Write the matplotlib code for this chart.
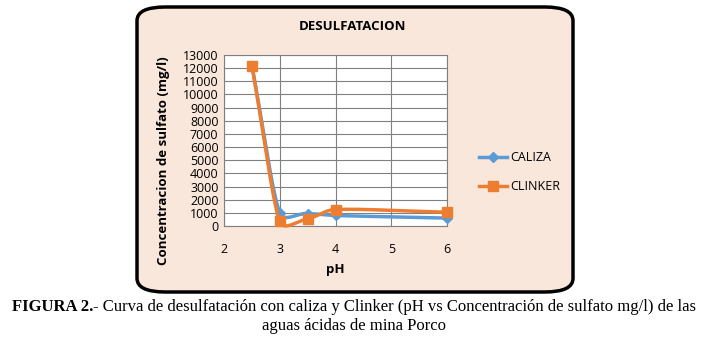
import numpy as np
import matplotlib
matplotlib.use('Agg')
import matplotlib.pyplot as plt
from matplotlib.patches import FancyBboxPatch

# data
ph = [2.5, 3, 3.5, 4, 6]
caliza = [12200, 1000, 950, 800, 600]
clinker = [12200, 350, 550, 1250, 1050]
yticks = list(range(0, 13001, 1000))
xticks = [2, 3, 4, 5, 6]

W, H = 708, 342
# plot area in pixels
ax_l, ax_r, ax_t, ax_b = 224, 447, 55, 226
xmin, xmax, ymin, ymax = 2, 6, 0, 13000


def smooth(x, y, k=0.4, n=40):
    # Excel-like smoothed line, worked out in screen space
    sx = (ax_r - ax_l) / (xmax - xmin)
    sy = (ax_b - ax_t) / (ymax - ymin)
    p = np.column_stack([np.asarray(x) * sx, np.asarray(y) * sy])
    m = len(p)
    seglen = [np.linalg.norm(p[i + 1] - p[i]) for i in range(m - 1)]
    tang = []
    for i in range(m):
        d = p[min(i + 1, m - 1)] - p[max(i - 1, 0)]
        tang.append(d / np.linalg.norm(d))

    def arm(i, own):
        # arm length from the segment itself, capped by the neighbour
        other = [seglen[j] for j in (i - 1, i) if 0 <= j < m - 1 and j != own]
        L = seglen[own]
        if other:
            L = min(L, 2 * other[0])
        return L * k

    pts = [p[0]]
    for i in range(m - 1):
        p1, p2 = p[i], p[i + 1]
        c1 = p1 + tang[i] * arm(i, i)
        c2 = p2 - tang[i + 1] * arm(i + 1, i)
        t = np.linspace(0, 1, n)[1:, None]
        seg = (1 - t) ** 3 * p1 + 3 * (1 - t) ** 2 * t * c1 + 3 * (1 - t) * t ** 2 * c2 + t ** 3 * p2
        pts.extend(seg)
    pts = np.array(pts)
    return pts[:, 0] / sx, pts[:, 1] / sy


fig = plt.figure(figsize=(W / 100, H / 100), dpi=100)
fig.patch.set_facecolor('white')

# chart frame
frame = FancyBboxPatch((137 / W, 1 - 292 / H), (573 - 137) / W, (292 - 7) / H,
                       boxstyle='round,pad=0,rounding_size=0.04', transform=fig.transFigure,
                       facecolor='#fae7dc', edgecolor='black', linewidth=2.5, zorder=0)
fig.patches.append(frame)

ax = fig.add_axes([ax_l / W, 1 - ax_b / H, (ax_r - ax_l) / W, (ax_b - ax_t) / H])
ax.set_zorder(2)
ax.set_facecolor('white')
blue = '#5b9bd5'
orange = '#ed7d31'

sx, sy = smooth(ph, caliza)
ax.plot(sx, sy, color=blue, lw=2.5, zorder=3, clip_on=False)
ax.plot(ph, caliza, 'D', color=blue, ms=5, zorder=3, clip_on=False)
sx, sy = smooth(ph, clinker)
ax.plot(sx, sy, color=orange, lw=2.5, zorder=4, clip_on=False)
ax.plot(ph, clinker, 's', color=orange, ms=7, zorder=4, clip_on=False)

ax.set_xlim(xmin, xmax)
ax.set_ylim(ymin, ymax)
ax.set_xticks(xticks)
ax.set_yticks(yticks)
ax.grid(True, color='#808080', lw=0.8)
ax.set_axisbelow(True)
for s in ax.spines.values():
    s.set_color('#808080')
    s.set_linewidth(0.8)
ax.tick_params(length=0, labelsize=9, pad=4)
ax.tick_params(axis='x', pad=12)
for lab in ax.get_xticklabels() + ax.get_yticklabels():
    lab.set_fontfamily('Open Sans')

fig.text(353 / W, 1 - 27 / H, 'DESULFATACION', ha='center', va='center',
         fontsize=9.5, fontweight='bold', family='Open Sans')
fig.text(335 / W, 1 - 270 / H, 'pH', ha='center', va='center',
         fontsize=9.5, fontweight='bold', family='Open Sans')
fig.text(163 / W, 1 - 161 / H, 'Concentracion de sulfato (mg/l)', ha='center', va='center',
         rotation=90, fontsize=9.5, fontweight='bold', family='Open Sans')

# legend
fig.legend(handles=[plt.Line2D([], [], color=blue, lw=2.5, marker='D', ms=5),
                    plt.Line2D([], [], color=orange, lw=2.5, marker='s', ms=7)],
           labels=['CALIZA', 'CLINKER'], loc='upper left',
           bbox_to_anchor=(468 / W, 1 - 140 / H), frameon=False,
           prop={'family': 'Open Sans', 'size': 9}, handlelength=2.2,
           handletextpad=0.3, labelspacing=1.3)

# caption: bold prefix followed by normal text, centred together
r = fig.canvas.get_renderer()
bold = fig.text(0, 1 - 307 / H, 'FIGURA 2.', ha='left', va='center', fontsize=12,
                fontweight='bold', family='Liberation Serif')
rest = fig.text(0, 1 - 307 / H,
                '- Curva de desulfatación con caliza y Clinker (pH vs Concentración de sulfato mg/l) de las',
                ha='left', va='center', fontsize=12, family='Liberation Serif')
wb = bold.get_window_extent(r).width
wr = rest.get_window_extent(r).width
x0 = 354 - (wb + wr) / 2
bold.set_x(x0 / W)
rest.set_x((x0 + wb) / W)
fig.text(354 / W, 1 - 326 / H, 'aguas ácidas de mina Porco', ha='center', va='center',
         fontsize=12, family='Liberation Serif')

fig.savefig('out.png', dpi=100)
